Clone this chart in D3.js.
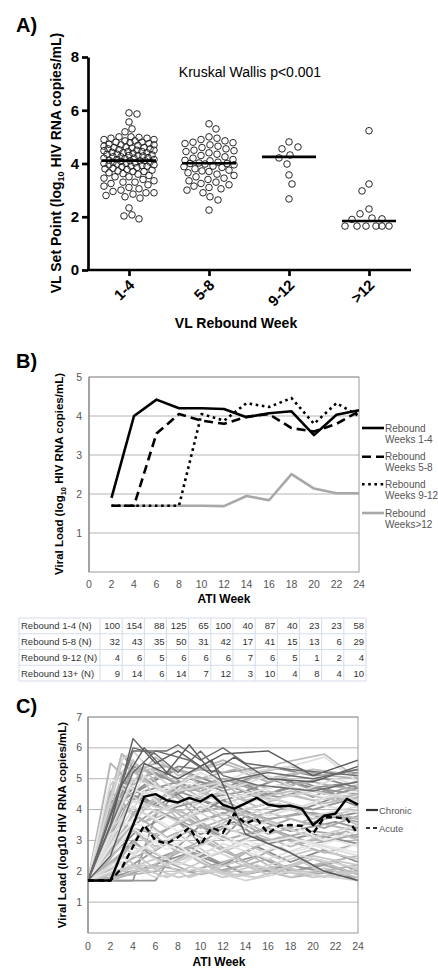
<!DOCTYPE html>
<html><head><meta charset="utf-8">
<script src="https://cdn.jsdelivr.net/npm/d3@7"></script>
<style>
body{margin:0;background:#fff;}
svg{display:block;font-family:"Liberation Sans",Arial,sans-serif;}
</style>
</head><body>
<svg id="chart" width="438" height="975"></svg>
<script>
// ---------------- Panel A data ----------------
const groupCats = ["1-4", "5-8", "9-12", ">12"];
const setPoint_1_4 = [5.9,5.86,5.56,5.3,5.19,5.0,5.0,4.98,4.95,4.95,4.9,4.9,4.85,4.85,4.8,4.8,4.78,4.75,4.72,4.7,4.7,4.68,4.65,4.62,4.6,4.6,4.58,4.55,4.55,4.52,4.5,4.5,4.48,4.45,4.45,4.42,4.4,4.4,4.38,4.35,4.35,4.32,4.3,4.3,4.28,4.25,4.25,4.22,4.2,4.2,4.18,4.15,4.15,4.12,4.1,4.1,4.1,4.08,4.05,4.05,4.02,4.0,4.0,3.98,3.95,3.95,3.92,3.9,3.9,3.88,3.85,3.82,3.8,3.78,3.75,3.72,3.7,3.7,3.65,3.62,3.6,3.55,3.5,3.5,3.45,3.4,3.35,3.3,3.3,3.25,3.2,3.15,3.1,3.05,3.0,2.95,2.9,2.9,2.85,2.8,2.75,2.7,2.33,2.07,2.03,1.92];
const setPoint_5_8 = [5.49,5.3,5.0,4.95,4.9,4.85,4.8,4.78,4.75,4.7,4.65,4.6,4.55,4.5,4.48,4.45,4.4,4.35,4.3,4.25,4.2,4.15,4.12,4.1,4.05,4.02,4.0,4.0,3.98,3.95,3.9,3.88,3.85,3.8,3.75,3.72,3.7,3.65,3.6,3.55,3.5,3.45,3.4,3.35,3.3,3.25,3.2,3.15,3.1,3.05,3.0,2.9,2.75,2.63,2.25];
const setPoint_9_12 = [4.81,4.62,4.55,4.32,4.21,3.98,3.57,3.23,2.67];
const setPoint_gt12 = [5.23,3.23,2.97,2.29,2.11,1.95,1.92,1.9,1.65,1.65,1.65,1.65,1.65,1.65];
const groupMedians = [4.11, 4.01, 4.25, 1.84];
const yTicksA = [0, 2, 4, 6, 8];

// ---------------- Panel B data ----------------
const weeksB = [2,4,6,8,10,12,14,16,18,20,22,24];
const rebound1_4 = [1.9,4.0,4.42,4.2,4.2,4.18,3.97,4.07,4.12,3.51,4.03,4.15];
const rebound5_8 = [1.7,1.7,3.55,4.05,3.88,3.8,3.98,4.05,3.69,3.6,3.8,4.12];
const rebound9_12 = [1.7,1.7,1.7,1.7,4.05,3.88,4.33,4.23,4.46,3.8,4.33,4.0];
const rebound13 = [1.7,1.7,1.7,1.7,1.7,1.69,1.95,1.84,2.51,2.14,2.02,2.02];
const legendB = [["Rebound","Weeks 1-4"],["Rebound","Weeks 5-8"],["Rebound","Weeks 9-12"],["Rebound","Weeks>12"]];
const xTicksB = [0,2,4,6,8,10,12,14,16,18,20,22,24];
const yTicksB = [1,2,3,4,5];

// ---------------- Table data ----------------
const tableLabels = ["Rebound 1-4 (N)","Rebound 5-8 (N)","Rebound 9-12 (N)","Rebound 13+ (N)"];
const n1_4 = [100,154,88,125,65,100,40,87,40,23,23,58];
const n5_8 = [32,43,35,50,31,42,17,41,15,13,6,29];
const n9_12 = [4,6,5,6,6,6,7,6,5,1,2,4];
const n13 = [9,14,6,14,7,12,3,10,4,8,4,10];

// ---------------- Panel C data ----------------
const weeksC = [0,1,2,3,4,5,6,7,8,9,10,11,12,13,14,15,16,17,18,19,20,21,22,23,24];
const chronicMean = [1.7,1.7,1.7,2.6,3.5,4.42,4.5,4.3,4.23,4.38,4.26,4.48,4.15,4.03,4.2,4.38,4.16,4.1,4.13,4.03,3.5,3.8,3.87,4.35,4.16];
const acuteMean = [1.7,1.7,1.7,2.1,2.8,3.5,3.0,2.9,3.1,3.42,2.85,3.42,3.25,3.87,3.55,3.7,3.22,3.48,3.5,3.47,3.22,3.75,3.75,3.7,3.22];
const xTicksC = [0,2,4,6,8,10,12,14,16,18,20,22,24];
const yTicksC = [1,2,3,4,5,6,7];
const patientsDark = [
 [[0,1.7],[2,3.5],[4,6.3],[6,5.5],[8,5.9],[10,5.4],[12,5.8],[16,5.9],[20,5.1],[24,5.6]],
 [[0,1.7],[4,5.9],[7,5.9],[8,6.1],[10,5.6],[12,6.0],[14,5.5],[18,5.3],[24,5.1]],
 [[0,1.7],[3,4.8],[5,6.0],[7,5.2],[9,6.1],[11,5.2],[13,5.7],[16,5.0],[20,4.9],[24,5.4]],
 [[0,1.7],[4,6.0],[6,5.8],[8,5.2],[10,5.9],[12,5.1],[15,4.8],[20,4.6],[24,4.9]],
 [[0,1.7],[2,2.5],[5,5.5],[8,5.0],[11,5.6],[14,3.2],[18,2.6],[21,2.0],[24,1.7]],
 [[0,1.7],[4,5.2],[6,5.9],[9,5.6],[12,4.9],[16,5.2],[20,5.0],[24,5.3]]
];
const patientsMid = [
 [[0,1.7],[2,4.2],[4,5.0],[6,4.8],[8,4.5],[10,4.9],[12,4.6],[14,4.8],[16,4.5],[18,4.7],[20,4.4],[22,4.8],[24,4.6]],
 [[0,1.7],[3,5.8],[5,4.9],[7,5.2],[9,4.7],[12,5.0],[15,4.6],[18,4.9],[21,4.5],[24,4.8]],
 [[0,1.7],[2,3.0],[4,4.4],[7,4.0],[10,4.3],[13,3.9],[16,4.2],[19,4.0],[22,4.4],[24,4.1]],
 [[0,1.7],[4,1.7],[6,3.8],[8,4.6],[11,4.2],[14,4.5],[17,4.3],[20,4.0],[24,4.4]],
 [[0,1.7],[2,1.7],[4,2.5],[6,3.1],[8,3.6],[10,2.9],[12,3.4],[16,3.0],[20,3.3],[24,3.1]],
 [[0,1.7],[3,4.6],[6,4.2],[9,5.0],[12,4.7],[15,5.1],[18,4.8],[21,5.0],[24,4.7]],
 [[0,1.7],[2,2.2],[4,3.0],[6,2.4],[9,2.8],[12,2.2],[15,2.5],[18,2.0],[22,2.3],[24,2.0]],
 [[0,1.7],[4,5.6],[5,5.0],[8,4.4],[10,3.6],[13,4.0],[16,3.7],[20,3.9],[24,3.6]],
 [[0,1.7],[2,4.0],[5,4.8],[8,5.3],[11,4.9],[14,4.6],[17,5.0],[20,4.7],[24,4.9]],
 [[0,1.7],[6,1.7],[8,2.8],[10,3.5],[12,3.1],[14,3.8],[18,3.3],[22,3.6],[24,3.4]],
 [[0,1.7],[3,3.2],[6,4.0],[9,3.5],[12,3.9],[15,3.3],[18,3.7],[21,3.4],[24,3.8]],
 [[0,1.7],[4,4.5],[8,5.4],[12,5.2],[16,5.4],[20,5.1],[24,5.2]],
 [[0,1.7],[3,4.0],[5,4.6],[8,4.9],[11,4.4],[14,4.6],[17,4.4],[20,4.7],[24,4.5]],
 [[0,1.7],[2,1.7],[6,2.2],[10,1.9],[14,2.2],[18,1.8],[22,2.0],[24,1.7]],
 [[0,1.7],[4,3.2],[7,3.8],[10,3.2],[13,3.6],[16,2.9],[20,3.2],[24,2.9]],
 [[0,1.7],[3,4.8],[6,5.2],[9,4.6],[12,4.9],[15,4.4],[18,4.7],[22,4.5],[24,4.7]],
 [[0,1.7],[5,2.6],[9,2.0],[13,2.4],[17,1.9],[21,2.2],[24,1.9]],
 [[0,1.7],[2,3.8],[4,4.7],[6,4.1],[8,4.5],[10,3.9],[12,4.3],[15,3.8],[18,4.1],[21,3.7],[24,3.9]],
 [[0,1.7],[4,5.4],[7,5.0],[10,4.6],[13,5.0],[16,4.5],[19,4.9],[22,4.5],[24,4.7]],
 [[0,1.7],[3,3.5],[6,3.2],[9,3.7],[12,3.0],[16,3.4],[20,2.9],[24,3.2]],
 [[0,1.7],[2,1.8],[5,2.1],[9,2.6],[12,2.2],[15,2.8],[18,2.3],[21,2.7],[24,2.3]],
 [[0,1.7],[3,2.0],[7,2.9],[11,2.4],[14,1.9],[18,2.2],[22,1.9],[24,1.8]],
 [[0,1.7],[2,4.6],[4,3.9],[6,4.3],[9,3.8],[12,4.1],[15,3.6],[19,3.9],[24,3.7]]
];
const patientsLight = [
 [[0,1.7],[3,5.8],[5,5.3],[7,4.5],[9,5.1],[11,4.4],[14,4.9],[17,5.5],[21,5.8],[24,5.0]],
 [[0,1.7],[2,4.8],[4,5.6],[6,4.3],[9,4.8],[12,4.2],[16,4.6],[20,4.3],[24,4.5]],
 [[0,1.7],[2,2.0],[5,3.4],[8,2.6],[11,3.0],[14,2.3],[17,2.8],[20,2.2],[24,2.5]],
 [[0,1.7],[4,3.8],[6,4.4],[8,3.7],[10,4.1],[13,3.5],[16,3.9],[19,3.6],[22,3.9],[24,3.7]],
 [[0,1.7],[3,2.8],[6,2.1],[9,2.5],[12,1.9],[15,2.2],[18,1.8],[21,2.1],[24,1.8]],
 [[0,1.7],[2,3.6],[4,5.2],[7,5.4],[10,5.0],[13,5.3],[16,4.9],[19,5.2],[24,5.0]],
 [[0,1.7],[5,4.0],[8,4.8],[10,4.4],[12,4.9],[14,4.3],[18,4.6],[22,4.3],[24,4.5]],
 [[0,1.7],[2,1.7],[4,2.0],[8,2.3],[12,1.8],[16,2.1],[20,1.8],[24,2.0]],
 [[0,1.7],[3,4.2],[5,3.6],[7,4.1],[10,3.4],[13,3.8],[16,3.2],[20,3.6],[24,3.3]],
 [[0,1.7],[4,4.9],[6,5.7],[8,5.1],[12,5.5],[16,5.0],[20,5.3],[24,5.1]],
 [[0,1.7],[2,2.6],[4,3.3],[6,2.7],[8,3.2],[11,2.5],[14,2.9],[17,2.4],[20,2.7],[24,2.4]],
 [[0,1.7],[6,2.0],[9,2.6],[12,2.0],[16,2.4],[19,1.9],[24,2.2]],
 [[0,1.7],[3,5.5],[6,4.7],[9,4.2],[12,4.6],[15,4.1],[18,4.5],[21,4.2],[24,4.4]],
 [[0,1.7],[2,4.4],[5,4.2],[8,3.9],[11,4.4],[14,3.8],[17,4.2],[20,3.7],[24,4.0]],
 [[0,1.7],[2,5.5],[4,4.8],[6,5.3],[9,4.6],[12,5.0],[16,4.7],[20,4.9],[24,4.6]],
 [[0,1.7],[1,2.4],[3,4.1],[5,3.6],[8,4.0],[11,3.4],[14,3.9],[18,3.4],[22,3.8],[24,3.5]],
 [[0,1.7],[4,2.2],[7,1.8],[10,2.3],[13,1.8],[17,2.2],[21,1.8],[24,2.1]],
 [[0,1.7],[3,5.1],[6,5.5],[9,5.2],[12,5.6],[15,5.2],[18,5.4],[21,5.1],[24,5.3]],
 [[0,1.7],[3,2.5],[5,2.0],[8,2.7],[11,2.1],[14,2.6],[17,2.0],[20,2.4],[24,1.9]],
 [[0,1.7],[2,1.9],[6,2.4],[9,1.8],[13,2.3],[16,1.9],[20,2.5],[24,2.2]],
 [[0,1.7],[4,2.9],[7,2.4],[10,3.0],[13,2.5],[17,3.1],[21,2.6],[24,2.9]],
 [[0,1.7],[3,3.6],[6,2.8],[9,3.3],[12,2.7],[15,3.2],[18,2.8],[22,3.3],[24,3.0]],
 [[0,1.7],[5,2.2],[8,1.8],[11,2.0],[15,1.8],[19,2.3],[22,1.8],[24,2.0]],
 [[0,1.7],[2,2.4],[4,3.9],[7,3.1],[10,3.6],[13,2.9],[16,3.4],[19,2.9],[23,3.3],[24,3.1]]
];
const patientsPale = [
 [[0,1.7],[4,5.0],[7,4.6],[10,5.2],[13,4.7],[16,5.1],[19,4.6],[22,5.0],[24,4.8]],
 [[0,1.7],[2,3.2],[5,3.9],[8,3.3],[11,3.7],[14,3.1],[18,3.5],[21,3.0],[24,3.3]],
 [[0,1.7],[3,2.3],[6,1.8],[10,2.1],[14,1.7],[18,2.0],[24,1.7]],
 [[0,1.7],[4,4.3],[8,3.6],[12,4.4],[16,3.8],[20,4.2],[24,3.9]],
 [[0,1.7],[2,5.0],[5,4.5],[9,4.9],[13,4.4],[17,4.8],[21,4.4],[24,4.6]],
 [[0,1.7],[3,3.0],[7,2.2],[11,2.7],[15,2.1],[19,2.5],[24,2.1]],
 [[0,1.7],[5,5.1],[8,4.2],[11,4.7],[14,5.2],[18,5.4],[21,5.7],[24,4.9]],
 [[0,1.7],[2,2.0],[6,3.0],[10,2.4],[14,3.0],[18,2.6],[22,3.0],[24,2.8]],
 [[0,1.7],[2,3.4],[4,4.1],[7,3.4],[10,3.9],[13,3.3],[16,3.6],[20,3.1],[24,3.5]],
 [[0,1.7],[5,4.6],[7,4.0],[10,4.5],[13,4.1],[16,4.4],[19,4.1],[22,4.5],[24,4.2]],
 [[0,1.7],[2,2.8],[4,3.6],[6,3.3],[9,2.6],[12,3.2],[15,2.6],[19,3.0],[24,2.6]],
 [[0,1.7],[3,5.6],[4,5.9],[6,5.1],[8,4.6],[12,4.9],[16,4.3],[20,4.6],[24,4.3]],
 [[0,1.7],[2,2.2],[5,2.8],[8,2.2],[12,2.9],[16,2.4],[20,2.9],[24,2.5]],
 [[0,1.7],[4,3.4],[7,2.7],[10,3.3],[14,2.8],[18,3.1],[22,2.6],[24,2.9]],
 [[0,1.7],[3,4.7],[6,3.9],[9,4.4],[12,3.8],[16,4.2],[20,3.8],[24,4.1]]
];

// ---------------- Drawing ----------------
const svg = d3.select("#chart");
const FONT = '"Liberation Sans", Arial, sans-serif';

// panel letters
[["A)",32],["B)",368],["C)",713]].forEach(([t,y]) =>
  svg.append("text").attr("x",16).attr("y",y).attr("font-size",20).attr("font-weight","bold").text(t));

// ===== Panel A =====
const yA = d3.scaleLinear().domain([0,8]).range([270,57]);
const xA = d3.scalePoint().domain(groupCats).range([89,409]).padding(0.5);
const gA = svg.append("g");

function swarm(values, cx, minDist, cap) {
  const pts = values.map(v => ({v, y: yA(v)})).sort((a,b) => a.y - b.y);
  const placed = [];
  pts.forEach((p, i) => {
    let chosen = null, best = -1, bestOff = 0;
    const sign = i % 2 === 0 ? 1 : -1;
    for (let k = 0; k <= cap * 2; k++) {
      const off = (k % 2 === 0 ? sign : -sign) * Math.ceil(k / 2);
      let md = Infinity;
      for (const q of placed) {
        if (Math.abs(q.y - p.y) >= minDist) continue;
        const d = Math.hypot(q.x - (cx + off), q.y - p.y);
        if (d < md) md = d;
      }
      if (md >= minDist) { chosen = off; break; }
      if (md > best) { best = md; bestOff = off; }
    }
    p.x = cx + (chosen === null ? bestOff : chosen);
    placed.push(p);
  });
  return placed;
}

const groupsA = [setPoint_1_4, setPoint_5_8, setPoint_9_12, setPoint_gt12];
const swarmGap = [7.5, 8, 9.5, 9.5];
groupsA.forEach((vals, gi) => {
  const cx = xA(groupCats[gi]);
  const pts = swarm(vals, cx, swarmGap[gi], 25);
  gA.selectAll(null).data(pts).enter().append("circle")
    .attr("cx", d => d.x).attr("cy", d => d.y).attr("r", 3.3)
    .attr("fill", "white").attr("fill-opacity", 0.15).attr("stroke", "#111").attr("stroke-width", 0.9);
});
// medians
gA.selectAll(null).data(groupMedians).enter().append("line")
  .attr("x1", (d,i) => xA(groupCats[i]) - 27).attr("x2", (d,i) => xA(groupCats[i]) + 27)
  .attr("y1", d => yA(d)).attr("y2", d => yA(d))
  .attr("stroke", "#000").attr("stroke-width", 2.7);

// y axis A
const yAxisA = d3.axisLeft(yA).tickValues(yTicksA).tickSize(6).tickSizeOuter(0).tickPadding(3);
const gyA = gA.append("g").attr("transform","translate(88,0)").call(yAxisA);
gyA.select(".domain").attr("stroke","#000").attr("stroke-width",2.7);
gyA.selectAll(".tick line").attr("stroke","#000").attr("stroke-width",2.7);
gyA.selectAll(".tick text").attr("font-size",15).attr("font-weight","bold").attr("font-family",FONT).attr("fill","#000");
// x axis A
gA.append("line").attr("x1",86.7).attr("x2",411).attr("y1",270).attr("y2",270).attr("stroke","#000").attr("stroke-width",2.7);
const xAxisA = d3.axisBottom(xA).tickSize(6).tickSizeOuter(0);
const gxA = gA.append("g").attr("transform","translate(0,270)").call(xAxisA);
gxA.select(".domain").remove();
gxA.selectAll(".tick line").attr("stroke","#000").attr("stroke-width",2.7);
gxA.selectAll(".tick text").attr("font-size",15).attr("font-weight","bold").attr("font-family",FONT).attr("fill","#000")
  .attr("text-anchor","end").attr("dy",null).attr("y",0)
  .attr("transform","translate(6,16) rotate(-45)");
// titles A
gA.append("text").attr("x",250).attr("y",77).attr("text-anchor","middle").attr("font-size",14).text("Kruskal Wallis p<0.001");
gA.append("text").attr("x",236).attr("y",328).attr("text-anchor","middle").attr("font-size",14).attr("font-weight","bold").text("VL Rebound Week");
const tA = gA.append("text").attr("transform","translate(61,163) rotate(-90)").attr("text-anchor","middle")
  .attr("font-size",14).attr("font-weight","bold");
tA.append("tspan").text("VL Set Point (log");
tA.append("tspan").attr("font-size",9).attr("dy",3).text("10");
tA.append("tspan").attr("dy",-3).text(" HIV RNA copies/mL)");

// ===== Panel B =====
const xB = d3.scaleLinear().domain([0,24]).range([89,359]);
const yB = d3.scaleLinear().domain([0,5]).range([572,377]);
const gB = svg.append("g");
gB.selectAll(null).data(yTicksB).enter().append("line")
  .attr("x1",89).attr("x2",359).attr("y1",d=>yB(d)).attr("y2",d=>yB(d)).attr("stroke","#b4b4b4").attr("stroke-width",1);
gB.append("rect").attr("x",89).attr("y",377).attr("width",270).attr("height",195).attr("fill","none").attr("stroke","#9a9a9a").attr("stroke-width",1);
gB.append("line").attr("x1",89).attr("x2",89).attr("y1",377).attr("y2",572).attr("stroke","#888").attr("stroke-width",1.2);
gB.selectAll(null).data(yTicksB).enter().append("text")
  .attr("x",82).attr("y",d=>yB(d)+3.5).attr("text-anchor","end").attr("font-size",10.5).attr("fill","#555").text(d=>d);
gB.selectAll(null).data(xTicksB).enter().append("text")
  .attr("x",d=>xB(d)).attr("y",588).attr("text-anchor","middle").attr("font-size",10.5).attr("fill","#555").text(d=>d);
gB.append("text").attr("x",224).attr("y",603).attr("text-anchor","middle").attr("font-size",12).attr("font-weight","bold").text("ATI Week");
const tB = gB.append("text").attr("transform","translate(63,474) rotate(-90)").attr("text-anchor","middle")
  .attr("font-size",11.5).attr("font-weight","bold");
tB.append("tspan").text("Viral Load (log");
tB.append("tspan").attr("font-size",7.5).attr("dy",2.5).text("10");
tB.append("tspan").attr("dy",-2.5).text(" HIV RNA copies/mL)");

const seriesB = [rebound1_4, rebound5_8, rebound9_12, rebound13];
const styleB = [
  {c:"#000", d:null}, {c:"#000", d:"9,5"}, {c:"#000", d:"2.6,3.6"}, {c:"#a8a8a8", d:null}
];
const lineB = d3.line().x((d,i)=>xB(weeksB[i])).y(d=>yB(d));
[3,2,1,0].forEach(si => {
  gB.append("path").datum(seriesB[si]).attr("d",lineB).attr("fill","none")
    .attr("stroke",styleB[si].c).attr("stroke-width",2.6).attr("stroke-dasharray",styleB[si].d)
    .attr("stroke-linejoin","round");
});
const legYB = [428, 456.7, 484.3, 513];
legendB.forEach((lab, i) => {
  gB.append("line").attr("x1",362).attr("x2",384).attr("y1",legYB[i]).attr("y2",legYB[i])
    .attr("stroke",styleB[i].c).attr("stroke-width",2.6).attr("stroke-dasharray",styleB[i].d);
  gB.append("text").attr("x",385).attr("y",legYB[i]+3.5).attr("font-size",10).attr("fill","#555")
    .attr("font-family",'"Liberation Sans Narrow", "Liberation Sans", Arial, sans-serif').text(lab[0]);
  gB.append("text").attr("x",385).attr("y",legYB[i]+14.5).attr("font-size",10).attr("fill","#555")
    .attr("font-family",'"Liberation Sans Narrow", "Liberation Sans", Arial, sans-serif').text(lab[1]);
});

// ===== Table =====
const tableData = [n1_4, n5_8, n9_12, n13];
const gT = svg.append("g");
const colX = d3.scaleBand().domain(weeksB).range([100,366]);
const rowY = d3.scaleBand().domain(d3.range(tableLabels.length)).range([618,681]);
const tblStroke = "#d5dde8";
[618, ...tableLabels.map((_,i)=>rowY(i)+rowY.bandwidth())].forEach(y =>
  gT.append("line").attr("x1",19).attr("x2",366).attr("y1",y).attr("y2",y).attr("stroke",tblStroke));
[19, 100, ...weeksB.map(w=>colX(w)+colX.bandwidth())].forEach(x =>
  gT.append("line").attr("x1",x).attr("x2",x).attr("y1",618).attr("y2",681).attr("stroke",tblStroke));
tableLabels.forEach((lab,i) => {
  const y = rowY(i) + rowY.bandwidth()/2 + 3.5;
  gT.append("text").attr("x",21).attr("y",y).attr("font-size",9.5).attr("fill","#333").text(lab);
  tableData[i].forEach((v,j) => {
    gT.append("text").attr("x",colX(weeksB[j])+colX.bandwidth()-2).attr("y",y).attr("text-anchor","end")
      .attr("font-size",9.5).attr("fill","#333").text(v);
  });
});

// ===== Panel C =====
const xC = d3.scaleLinear().domain([0,24]).range([88,358]);
const yC = d3.scaleLinear().domain([0,7]).range([933,717]);
const gC = svg.append("g");
gC.selectAll(null).data(yTicksC).enter().append("line")
  .attr("x1",88).attr("x2",358).attr("y1",d=>yC(d)).attr("y2",d=>yC(d)).attr("stroke","#b4b4b4").attr("stroke-width",1);
const lineP = d3.line().x(d=>xC(d[0])).y(d=>yC(d[1]));
function drawPatients(arr, shades, w) {
  gC.selectAll(null).data(arr).enter().append("path").attr("d",lineP).attr("fill","none")
    .attr("stroke",(d,i)=>shades[i%shades.length]).attr("stroke-width",w).attr("stroke-linejoin","round");
}
drawPatients(patientsMid, ["#959595","#a6a6a6","#8a8a8a"], 1.8);
drawPatients(patientsLight, ["#bdbdbd","#c9c9c9","#b3b3b3"], 1.8);
drawPatients(patientsPale, ["#dedede","#e8e8e8","#d4d4d4"], 1.7);
drawPatients(patientsDark, ["#595959","#6a6a6a"], 1.4);
gC.append("rect").attr("x",88).attr("y",717).attr("width",270).attr("height",216).attr("fill","none").attr("stroke","#9a9a9a").attr("stroke-width",1);
gC.append("line").attr("x1",88).attr("x2",88).attr("y1",717).attr("y2",933).attr("stroke","#888").attr("stroke-width",1.2);
const lineC = d3.line().x((d,i)=>xC(weeksC[i])).y(d=>yC(d));
gC.append("path").datum(acuteMean).attr("d",lineC).attr("fill","none").attr("stroke","#000").attr("stroke-width",2.4).attr("stroke-dasharray","6,4");
gC.append("path").datum(chronicMean).attr("d",lineC).attr("fill","none").attr("stroke","#000").attr("stroke-width",2.4).attr("stroke-linejoin","round");
gC.selectAll(null).data(yTicksC).enter().append("text")
  .attr("x",82).attr("y",d=>yC(d)+3.5).attr("text-anchor","end").attr("font-size",10.5).attr("fill","#555").text(d=>d);
gC.selectAll(null).data(xTicksC).enter().append("text")
  .attr("x",d=>xC(d)).attr("y",950).attr("text-anchor","middle").attr("font-size",10.5).attr("fill","#555").text(d=>d);
gC.append("text").attr("x",219).attr("y",966).attr("text-anchor","middle").attr("font-size",12).attr("font-weight","bold").text("ATI Week");
gC.append("text").attr("transform","translate(66,825) rotate(-90)").attr("text-anchor","middle")
  .attr("font-size",11.5).attr("font-weight","bold").text("Viral Load (log10 HIV RNA copies/mL)");
const legC = [["Chronic",810,null],["Acute",828,"4,3"]];
legC.forEach(([lab,y,dash]) => {
  gC.append("line").attr("x1",366).attr("x2",378).attr("y1",y).attr("y2",y).attr("stroke","#333").attr("stroke-width",2.2).attr("stroke-dasharray",dash);
  gC.append("text").attr("x",379).attr("y",y+3.5).attr("font-size",9.5).attr("fill","#555").text(lab);
});
</script>
</body></html>
